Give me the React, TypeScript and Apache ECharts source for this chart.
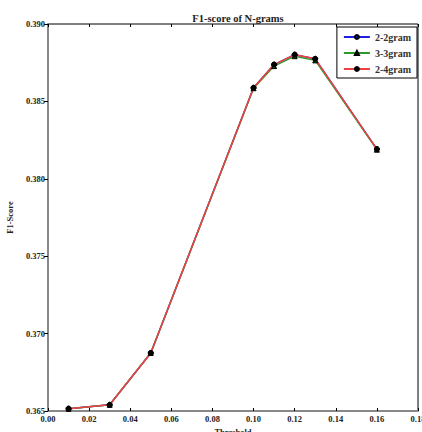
import React, { useEffect, useRef } from "react";
import * as echarts from "echarts";

const thresholds = [0.01, 0.03, 0.05, 0.10, 0.11, 0.12, 0.13, 0.16];
const gram22 = [0.36515, 0.3654, 0.36875, 0.38588, 0.38738, 0.38802, 0.38775, 0.38192];
const gram33 = [0.36515, 0.3654, 0.36875, 0.38585, 0.38728, 0.38792, 0.38765, 0.38188];
const gram24 = [0.36515, 0.3654, 0.36875, 0.38588, 0.38738, 0.38802, 0.38775, 0.38192];
const seriesNames = ["2-2gram", "3-3gram", "2-4gram"];

const font = "'Liberation Serif', 'DejaVu Serif', serif";

export default function App() {
  const ref = useRef<HTMLDivElement>(null);
  useEffect(() => {
    if (!ref.current) return;
    const chart = echarts.init(ref.current, undefined, { renderer: "svg" });
    const mk = (vals: number[]) => thresholds.map((t, i) => [t, vals[i]]);
    const tickLabel = { fontFamily: font, fontSize: 8.5, fontWeight: "bold" as const, color: "#222" };
    chart.setOption({
      animation: false,
      backgroundColor: "#fff",
      title: {
        text: "F1-score of N-grams",
        left: 233,
        top: 8,
        textAlign: "center",
        textStyle: { fontFamily: font, fontSize: 10.5, fontWeight: "bold", color: "#222" },
      },
      legend: {
        right: 5,
        top: 27,
        orient: "vertical",
        itemWidth: 26,
        itemHeight: 5,
        itemGap: 6,
        padding: [5, 6, 4, 6],
        borderColor: "#000",
        borderWidth: 1,
        backgroundColor: "#fff",
        textStyle: { fontFamily: font, fontSize: 10, fontWeight: "bold", color: "#333" },
        data: seriesNames,
      },
      grid: {
        left: 48, right: 4, top: 24, bottom: 21,
        outerBoundsMode: "none",
        containLabel: false,
        show: true, borderColor: "#000", borderWidth: 1,
      },
      xAxis: [
        {
          type: "value",
          min: 0,
          max: 0.18,
          interval: 0.02,
          name: "Threshold",
          nameLocation: "middle",
          nameGap: 15,
          nameTextStyle: { fontFamily: font, fontSize: 8.5, fontWeight: "bold", color: "#222" },
          axisLine: { show: true, lineStyle: { color: "#888", width: 2 } },
          axisTick: { show: true, inside: true, length: 3, lineStyle: { color: "#000" } },
          splitLine: { show: false },
          axisLabel: { ...tickLabel, margin: 3, formatter: (v: number) => v.toFixed(2) },
        },
        {
          type: "value",
          position: "top",
          min: 0,
          max: 0.18,
          interval: 0.02,
          axisLine: { show: false },
          axisTick: { show: true, inside: true, length: 3, lineStyle: { color: "#000" } },
          axisLabel: { show: false },
          splitLine: { show: false },
        },
      ],
      yAxis: [
        {
          type: "value",
          min: 0.365,
          max: 0.39,
          interval: 0.005,
          name: "F1-Score",
          nameLocation: "middle",
          nameGap: 29,
          nameTextStyle: { fontFamily: font, fontSize: 8.5, fontWeight: "bold", color: "#222" },
          axisLine: { show: true, lineStyle: { color: "#888", width: 2 } },
          axisTick: { show: true, inside: false, length: 3, lineStyle: { color: "#000" } },
          splitLine: { show: false },
          axisLabel: { ...tickLabel, margin: 3, formatter: (v: number) => v.toFixed(3) },
        },
        {
          type: "value",
          position: "right",
          min: 0.365,
          max: 0.39,
          interval: 0.005,
          axisLine: { show: false },
          axisTick: { show: true, inside: true, length: 4, lineStyle: { color: "#000" } },
          axisLabel: { show: false },
          splitLine: { show: false },
        },
      ],
      series: [
        {
          name: seriesNames[0],
          type: "line",
          data: mk(gram22),
          symbol: "circle",
          symbolSize: 5,
          itemStyle: { color: "#1010d0", borderColor: "#000", borderWidth: 1 },
          lineStyle: { color: "#2020e0", width: 1.5 },
        },
        {
          name: seriesNames[1],
          type: "line",
          data: mk(gram33),
          symbol: "triangle",
          symbolSize: 5,
          itemStyle: { color: "#0a6a0a", borderColor: "#000", borderWidth: 1 },
          lineStyle: { color: "#2a9a2a", width: 1.5 },
        },
        {
          name: seriesNames[2],
          type: "line",
          data: mk(gram24),
          symbol: "circle",
          symbolSize: 5,
          itemStyle: { color: "#000", borderColor: "#000", borderWidth: 1 },
          lineStyle: { color: "#f04040", width: 1.5 },
        },
      ],
    });
    return () => chart.dispose();
  }, []);
  return <div ref={ref} style={{ width: 422, height: 432, position: "absolute", left: 0, top: 0 }} />;
}
